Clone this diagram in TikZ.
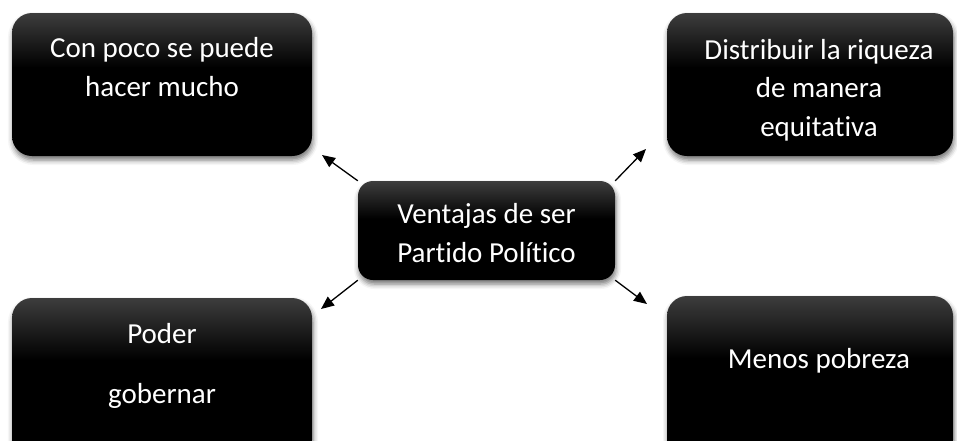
\documentclass[tikz,border=0pt]{standalone}
\usepackage{fontspec}
\setmainfont[Ligatures=NoCommon]{Carlito}
\usetikzlibrary{arrows.meta,shadows.blur}
\pgfdeclareverticalshading{boxshade}{100bp}{color(0bp)=(black); color(56bp)=(black); color(75bp)=(black!76); color(100bp)=(black!76)}
\tikzset{
  bigbox/.style={rounded corners=20pt, shading=boxshade, draw=none, inner sep=0pt,
    blur shadow={shadow xshift=1pt, shadow yshift=-4pt, shadow blur radius=5pt, shadow opacity=55}},
  midbox/.style={bigbox, rounded corners=15pt},
  txt/.style={text=white, anchor=base, inner sep=0pt, font=\fontsize{29}{34}\selectfont},
  arr/.style={line width=1.3pt, -{Triangle[length=13pt,width=11pt]}}
}
\begin{document}
\begin{tikzpicture}[x=1pt,y=-1pt]
\path[use as bounding box] (0,0) rectangle (957,440);
\clip (0,0) rectangle (957,440);
% boxes
\node[bigbox, minimum width=300pt, minimum height=143pt] (a) at (162,84.5) {};
\node[bigbox, minimum width=286pt, minimum height=143pt] (b) at (810,84.5) {};
\node[midbox, minimum width=257pt, minimum height=99pt] (c) at (486.5,230.5) {};
\node[bigbox, minimum width=300pt, minimum height=162pt] (d) at (162,379) {};
\node[bigbox, minimum width=286pt, minimum height=164pt] (e) at (810,378) {};
% texts
\node[txt] (a1) at (162,57) {Con poco se puede};
\node[txt] (a2) at (162,96) {hacer mucho};
\node[txt] (b1) at (819,59) {Distribuir la riqueza};
\node[txt] (b2) at (819,97.5) {de manera};
\node[txt] (b3) at (819,136) {equitativa};
\node[txt] (c1) at (486.5,223) {Ventajas de ser};
\node[txt] (c2) at (486.5,262) {Partido Político};
\node[txt] (d1) at (162,343) {Poder};
\node[txt] (d2) at (162,403) {gobernar};
\node[txt] (e1) at (819,368) {Menos pobreza};
% arrow tips
\coordinate (ta) at (322,155);
\coordinate (tb) at (646,149);
\coordinate (td) at (321,309);
\coordinate (te) at (647,304);
\draw[arr] (c.north west) -- (ta);
\draw[arr] (c.north east) -- (tb);
\draw[arr] (c.south west) -- (td);
\draw[arr] (c.south east) -- (te);
\end{tikzpicture}
\end{document}
